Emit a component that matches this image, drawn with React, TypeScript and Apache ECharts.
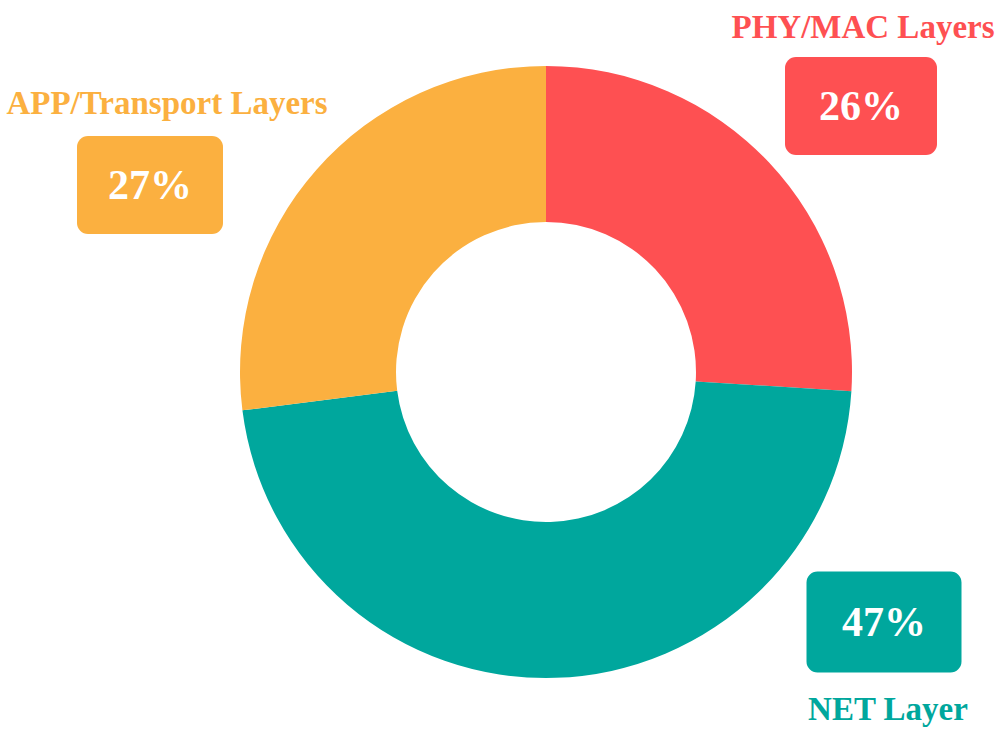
import React, { useEffect, useRef } from "react";
import * as echarts from "echarts";

const names = ["PHY/MAC Layers", "NET Layer", "APP/Transport Layers"];
const values = [26, 47, 27];
const colors = ["#FE5052", "#00A79D", "#FBB040"];

// label anchor positions (px) for percent boxes and titles
const boxPos = [[861, 106], [884, 622], [150, 185]];
const boxSize = [[152, 98], [155, 101], [146, 98]];
const titlePos = [[863, 27], [888, 709], [167, 103]];

const FONT = "'Liberation Serif', 'Times New Roman', serif";

export default function App() {
  const ref = useRef<HTMLDivElement>(null);
  useEffect(() => {
    if (!ref.current) return;
    const chart = echarts.init(ref.current, undefined, { renderer: "svg" });
    const data = names.map((n, i) => ({
      name: n,
      value: values[i],
      itemStyle: { color: colors[i] },
      label: {
        rich: {
          b: {
            width: boxSize[i][0],
            height: boxSize[i][1],
            lineHeight: boxSize[i][1],
            align: "center",
            verticalAlign: "middle",
            backgroundColor: colors[i],
            borderRadius: 11,
            color: "#fff",
            fontSize: 42,
            fontWeight: "bold",
            fontFamily: FONT,
          },
        },
      },
    }));
    const titleData = names.map((n, i) => ({
      name: n,
      value: values[i],
      itemStyle: { color: "rgba(0,0,0,0)" },
      label: { color: colors[i] },
    }));
    chart.setOption({
      animation: false,
      backgroundColor: "#fff",
      series: [
        {
          type: "pie",
          center: [546, 372],
          radius: [150, 306],
          startAngle: 90,
          clockwise: true,
          data,
          label: {
            show: true,
            position: "outside",
            formatter: (p: any) => `{b|${Math.round(p.percent)}%}`,
            align: "center",
            verticalAlign: "middle",
            overflow: "none",
          },
          labelLine: { show: false },
          labelLayout: (p: any) => ({
            x: boxPos[p.dataIndex][0],
            y: boxPos[p.dataIndex][1],
            align: "center",
            verticalAlign: "middle",
          }),
          emphasis: { disabled: true },
        },
        {
          type: "pie",
          center: [546, 372],
          radius: [150, 306],
          startAngle: 90,
          clockwise: true,
          silent: true,
          data: titleData,
          label: {
            show: true,
            position: "outside",
            formatter: "{b}",
            fontSize: 33,
            fontWeight: "bold",
            fontFamily: FONT,
            align: "center",
            verticalAlign: "middle",
            overflow: "none",
            width: 400,
          },
          labelLine: { show: false },
          labelLayout: (p: any) => ({
            x: titlePos[p.dataIndex][0],
            y: titlePos[p.dataIndex][1],
            align: "center",
            verticalAlign: "middle",
          }),
          emphasis: { disabled: true },
        },
      ],
    });
    return () => chart.dispose();
  }, []);
  return (
    <div
      ref={ref}
      style={{ position: "absolute", left: 0, top: 0, width: 1008, height: 734 }}
    />
  );
}
